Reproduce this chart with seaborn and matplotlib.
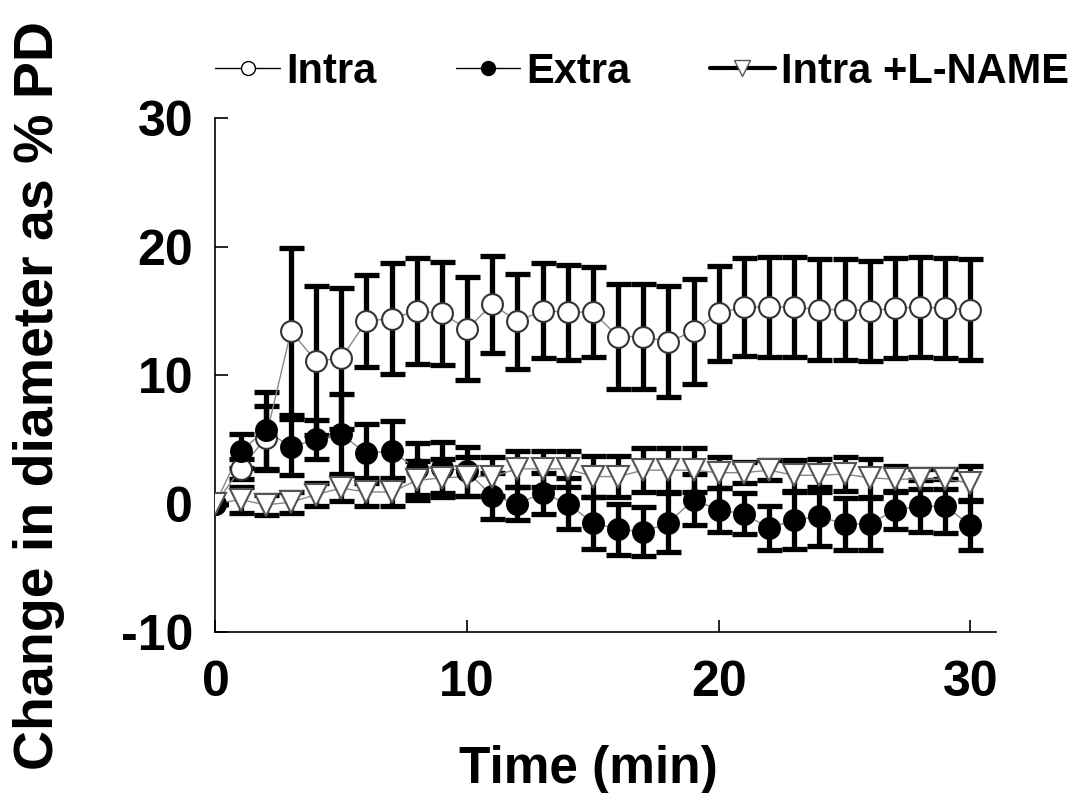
import matplotlib
matplotlib.use('Agg')
import matplotlib.pyplot as plt
import numpy as np
import pandas as pd
import seaborn as sns
from matplotlib.lines import Line2D

sns.set_style('ticks')
plt.rcParams['font.family'] = ['Liberation Sans', 'DejaVu Sans']
plt.rcParams['font.weight'] = 'bold'
plt.rcParams['text.color'] = 'black'
plt.rcParams['axes.labelcolor'] = 'black'
plt.rcParams['xtick.color'] = 'black'
plt.rcParams['ytick.color'] = 'black'
plt.rcParams['axes.edgecolor'] = 'black'
plt.rcParams['axes.unicode_minus'] = False

# %%
# Values (mean and SD per minute)
time_min = list(range(0, 31))

intra_mean = [0.0, 2.7, 5.1, 13.4, 11.1, 11.3, 14.2, 14.4, 15.0, 14.8, 13.6,
              15.5, 14.2, 15.0, 14.9, 14.9, 13.0, 13.0, 12.6, 13.4, 14.8,
              15.3, 15.3, 15.3, 15.1, 15.1, 15.0, 15.2, 15.3, 15.2, 15.1]
intra_sd = [0.0, 0.8, 2.5, 6.5, 5.8, 5.5, 3.6, 4.3, 4.1, 4.0, 4.0,
            3.8, 3.7, 3.7, 3.7, 3.5, 4.1, 4.1, 4.3, 4.1, 3.7,
            3.8, 3.9, 3.9, 3.9, 3.9, 3.9, 3.9, 3.9, 3.9, 3.9]

extra_mean = [0.0, 4.1, 5.7, 4.4, 5.0, 5.4, 3.9, 4.1, 2.7, 2.8, 2.5,
              0.6, 0.0, 0.8, 0.0, -1.5, -2.0, -2.2, -1.5, 0.3, -0.5,
              -0.8, -1.9, -1.3, -1.0, -1.6, -1.6, -0.5, -0.2, -0.2, -1.7]
extra_sd = [0.0, 1.3, 3.0, 2.2, 1.5, 3.1, 2.3, 2.3, 2.0, 2.0, 1.9,
            1.8, 1.3, 1.6, 2.0, 2.0, 2.0, 1.9, 2.3, 2.0, 1.7,
            1.6, 1.7, 2.2, 2.3, 2.0, 2.0, 1.5, 2.0, 2.1, 1.9]

lname_mean = [0.0, 0.3, -0.1, 0.1, 0.7, 1.2, 0.9, 0.9, 1.8, 2.0, 2.1,
              2.1, 2.7, 2.7, 2.7, 2.1, 2.1, 2.6, 2.6, 2.6, 2.4,
              2.4, 2.6, 2.2, 2.2, 2.3, 2.0, 1.9, 1.9, 1.9, 1.6]
lname_sd = [0.0, 1.0, 0.8, 0.8, 0.9, 1.0, 1.1, 1.1, 1.5, 1.5, 1.5,
            1.5, 1.4, 1.4, 1.4, 1.6, 1.6, 1.7, 1.7, 1.7, 1.2,
            0.8, 0.8, 1.2, 1.3, 1.3, 1.5, 1.0, 0.8, 0.8, 1.3]

groups = ['Intra', 'Extra', 'Intra +L-NAME']

df = pd.concat([
    pd.DataFrame({'Time': time_min, 'Change': intra_mean, 'SD': intra_sd, 'Group': groups[0]}),
    pd.DataFrame({'Time': time_min, 'Change': extra_mean, 'SD': extra_sd, 'Group': groups[1]}),
    pd.DataFrame({'Time': time_min, 'Change': lname_mean, 'SD': lname_sd, 'Group': groups[2]}),
])

# %%
fig = plt.figure(figsize=(10.88, 7.93), dpi=100)
ax = fig.add_axes([0.198, 0.203, 0.717, 0.648])

# Error bars first so markers sit on top
for g in groups:
    sub = df[df['Group'] == g]
    ax.errorbar(sub['Time'], sub['Change'], yerr=sub['SD'], fmt='none',
                ecolor='black', elinewidth=3.8, capsize=9, capthick=3.8,
                zorder=2)

# Thin grey connecting lines
sns.lineplot(data=df, x='Time', y='Change', hue='Group',
             palette={g: '#888888' for g in groups},
             errorbar=None, linewidth=1, legend=False, ax=ax, zorder=3)

# Markers with their own fills
marker_style = {
    'Intra': dict(marker='o', mfc='white', mec='#333333', ms=15),
    'Extra': dict(marker='o', mfc='black', mec='black', ms=15),
    'Intra +L-NAME': dict(marker='v', mfc='white', mec='#555555', ms=16),
}
for g in groups:
    sub = df[df['Group'] == g]
    ax.plot(sub['Time'], sub['Change'], ls='none', mew=1.5, zorder=4,
            **marker_style[g])

ax.set_xlim(0, 31)
ax.set_ylim(-10, 30)
ax.set_xticks([0, 10, 20, 30])
ax.set_yticks([-10, 0, 10, 20, 30])
ax.tick_params(direction='in', length=9, width=1.2, labelsize=36)
ax.tick_params(axis='x', pad=20)
ax.tick_params(axis='y', pad=16)
for lbl in ax.get_xticklabels() + ax.get_yticklabels():
    lbl.set_fontweight('bold')
sns.despine(ax=ax)
for side in ('left', 'bottom'):
    ax.spines[side].set_linewidth(1.2)

ax.set_xlabel('Time (min)', fontsize=37, fontweight='bold')
ax.xaxis.set_label_coords(0.478, -0.22)
ax.set_ylabel('Change in diameter as % PD', fontsize=40, fontweight='bold')
ax.yaxis.set_label_coords(-0.226, 0.461)
ax.yaxis.label.set_va('center')

handles = [
    Line2D([], [], color='black', lw=1, marker='o', mfc='white', mec='black', ms=10),
    Line2D([], [], color='black', lw=1, marker='o', mfc='black', mec='black', ms=10),
    Line2D([], [], color='black', lw=3, marker='v', mfc='white', mec='#555555', ms=11),
]
fig.legend(handles, groups, loc='upper left', bbox_to_anchor=(0.198, 0.935),
           ncol=3, frameon=False, borderpad=0, borderaxespad=0,
           handlelength=1.55, handletextpad=0.15, columnspacing=1.9,
           prop={'size': 30, 'weight': 'bold'})

fig.savefig('out.png', dpi=100)
